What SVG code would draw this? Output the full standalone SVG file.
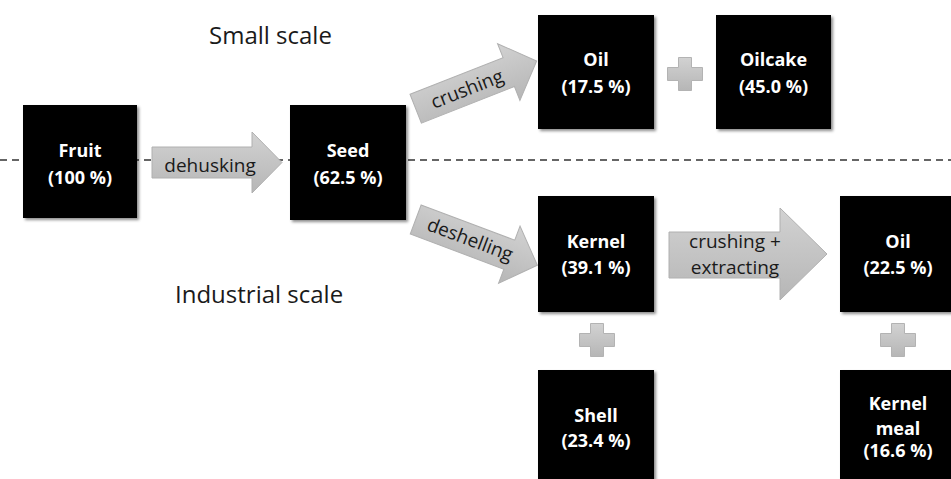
<svg xmlns="http://www.w3.org/2000/svg" width="951" height="479" viewBox="0 0 951 479">
<defs>
<filter id="sh" x="-10%" y="-10%" width="130%" height="130%">
<feDropShadow dx="2" dy="2" stdDeviation="1.5" flood-color="#000" flood-opacity="0.45"/>
</filter>
<linearGradient id="ag" x1="0" y1="0" x2="0" y2="1">
<stop offset="0" stop-color="#d2d2d2"/>
<stop offset="1" stop-color="#b6b6b6"/>
</linearGradient>
<path id="arr" d="M0,-15.5 H100 V-30.5 L130,0 L100,30.5 V15.5 H0 Z"/>
<path id="plus" d="M-6.5,-16.5 H6.5 V-6.5 H17.5 V6.5 H6.5 V16.5 H-6.5 V6.5 H-17.5 V-6.5 H-6.5 Z"/>
</defs>
<style>
.box{fill:#000;filter:url(#sh)}
.lbl{font-family:"Open Sans","DejaVu Sans",sans-serif;font-weight:bold;font-size:18px;fill:#fff;text-anchor:middle}
.al{font-family:"Open Sans","DejaVu Sans",sans-serif;font-size:19px;fill:#1a1a1a;text-anchor:middle}
.ttl{font-family:"Open Sans","DejaVu Sans",sans-serif;font-size:24px;fill:#1a1a1a}
.ar{fill:url(#ag);stroke:#b0b0b0;stroke-width:1}
.pl{fill:url(#ag);stroke:#b3b3b3;stroke-width:1}
.dash{stroke:#333;stroke-width:1.5;stroke-dasharray:7 5;fill:none}
</style>
<rect width="951" height="479" fill="#fff"/>
<line id="divider" class="dash" x1="0" y1="160" x2="951" y2="160"/>
<text class="ttl" x="209" y="44">Small scale</text>
<text class="ttl" x="175" y="303">Industrial scale</text>
<g id="connectors">
<g id="a-dehusking">
<use href="#arr" class="ar" transform="translate(152,162.5)"/>
<text class="al" x="210" y="172">dehusking</text>
</g>
<g id="a-crushing" transform="translate(415.7,108.7) rotate(-21.5)">
<use href="#arr" class="ar"/>
<text class="al" x="55" y="7">crushing</text>
</g>
<g id="a-deshelling" transform="translate(415.7,219.5) rotate(20.6)">
<use href="#arr" class="ar"/>
<text class="al" x="58" y="6">deshelling</text>
</g>
<g id="a-extract">
<path class="ar" d="M669,232 H780 V208 L827,254 L780,300 V278 H669 Z"/>
<text class="al" x="735" y="248">crushing +</text>
<text class="al" x="735" y="274">extracting</text>
</g>
<use id="plus1" href="#plus" class="pl" transform="translate(685,74)"/>
<use id="plus2" href="#plus" class="pl" transform="translate(597,340)"/>
<use id="plus3" href="#plus" class="pl" transform="translate(898,340)"/>
</g>
<g id="fruit">
<rect class="box" x="23" y="105" width="114" height="113"/>
<text class="lbl" x="80" y="157">Fruit</text>
<text class="lbl" x="80" y="184">(100 %)</text>
</g>
<g id="seed">
<rect class="box" x="290" y="105" width="116" height="115"/>
<text class="lbl" x="348" y="157">Seed</text>
<text class="lbl" x="348" y="184">(62.5 %)</text>
</g>
<g id="oil-small">
<rect class="box" x="538" y="15" width="116" height="114"/>
<text class="lbl" x="596" y="66">Oil</text>
<text class="lbl" x="596" y="93">(17.5 %)</text>
</g>
<g id="oilcake">
<rect class="box" x="716" y="15" width="115" height="114"/>
<text class="lbl" x="773.5" y="66">Oilcake</text>
<text class="lbl" x="773.5" y="93">(45.0 %)</text>
</g>
<g id="kernel">
<rect class="box" x="538" y="196" width="116" height="116"/>
<text class="lbl" x="596" y="248">Kernel</text>
<text class="lbl" x="596" y="274">(39.1 %)</text>
</g>
<g id="oil-industrial">
<rect class="box" x="840" y="196" width="116" height="116"/>
<text class="lbl" x="898" y="248">Oil</text>
<text class="lbl" x="898" y="274">(22.5 %)</text>
</g>
<g id="shell">
<rect class="box" x="538" y="370" width="116" height="116"/>
<text class="lbl" x="596" y="422">Shell</text>
<text class="lbl" x="596" y="447">(23.4 %)</text>
</g>
<g id="kernel-meal">
<rect class="box" x="840" y="370" width="116" height="116"/>
<text class="lbl" x="898" y="410">Kernel</text>
<text class="lbl" x="898" y="435">meal</text>
<text class="lbl" x="898" y="457">(16.6 %)</text>
</g>
</svg>
